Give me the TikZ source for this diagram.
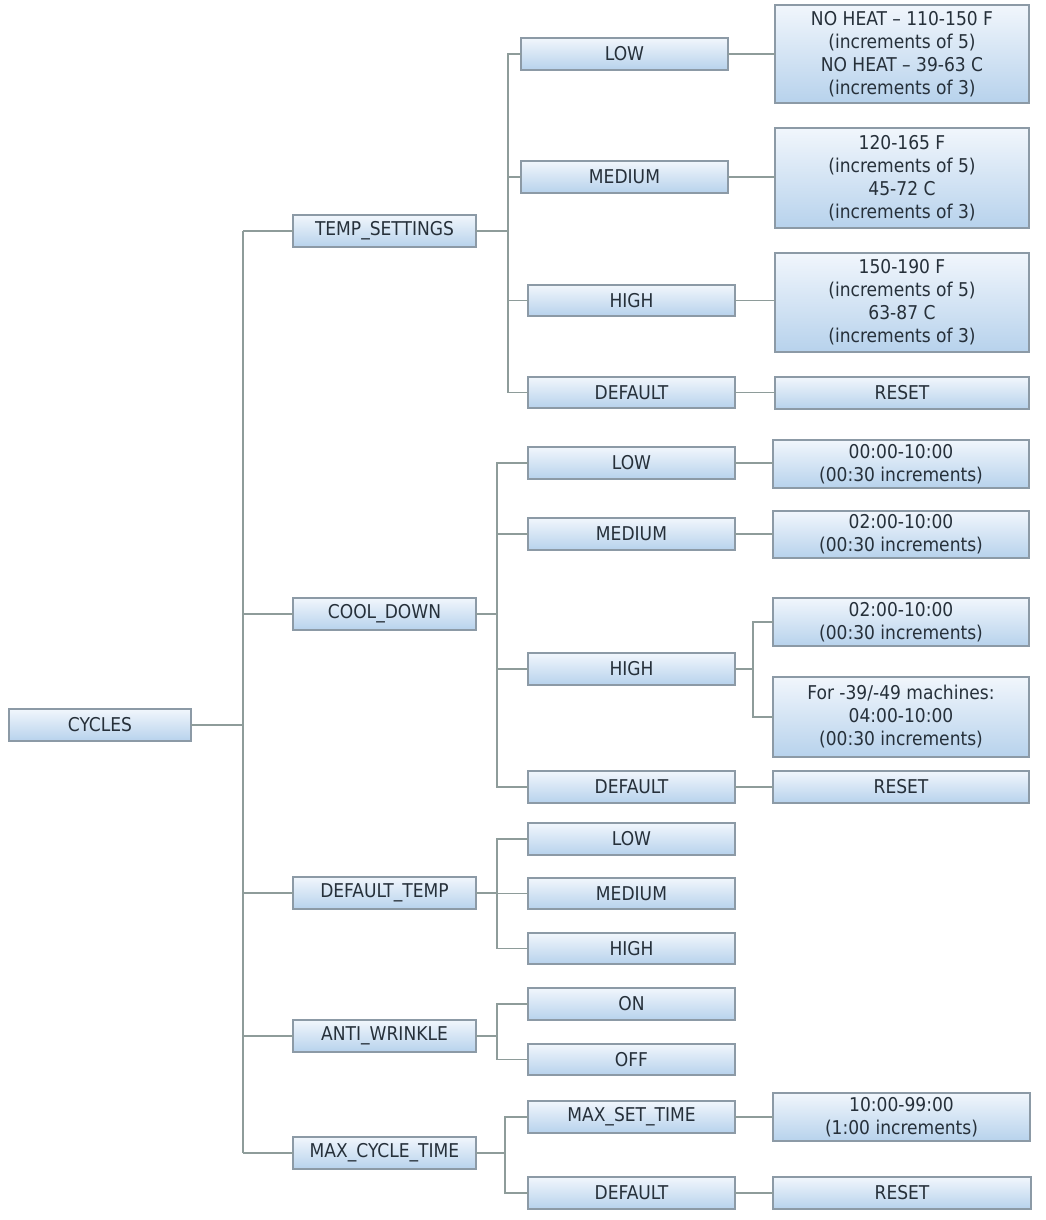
\documentclass[tikz,border=0pt]{standalone}
\usepackage{fontspec}
\setmainfont{DejaVu Sans Condensed}
\begin{document}
\begin{tikzpicture}[x=1pt,y=-1pt,
  box/.style={draw=boxline, line width=1.2pt, top color=boxtop, bottom color=boxbot,
    inner sep=0pt, outer sep=0pt, align=center, text=boxtext,
    font=\fontsize{19}{23}\selectfont},
  wire/.style={draw=wirecol, line width=1.5pt}]
\definecolor{boxline}{HTML}{8C9AA6}
\definecolor{boxtop}{HTML}{F1F6FC}
\definecolor{boxbot}{HTML}{B7D2EC}
\definecolor{boxtext}{HTML}{26303A}
\definecolor{wirecol}{HTML}{8E9C9A}
\useasboundingbox (0,0) rectangle (1045,1220);
\fill[white] (0,0) rectangle (1045,1220);
% helper macro: name, x1, y1, x2, y2, text
\newcommand{\bx}[6]{\node[box, minimum width={#4-#2}, minimum height={#5-#3}] (#1) at ({(#2+#4)/2},{(#3+#5)/2}) {#6};}
% level 0
\bx{cyc}{9}{709}{191}{741}{CYCLES}
% level 1
\bx{ts}{293}{215}{476}{247}{TEMP\_SETTINGS}
\bx{cd}{293}{598}{476}{630}{COOL\_DOWN}
\bx{dt}{293}{877}{476}{909}{DEFAULT\_TEMP}
\bx{aw}{293}{1020}{476}{1052}{ANTI\_WRINKLE}
\bx{mc}{293}{1137}{476}{1169}{MAX\_CYCLE\_TIME}
% level 2 : temp settings
\bx{tsl}{521}{38}{728}{70}{LOW}
\bx{tsm}{521}{161}{728}{193}{MEDIUM}
\bx{tsh}{528}{285}{735}{316}{HIGH}
\bx{tsd}{528}{377}{735}{408}{DEFAULT}
% level 2 : cool down
\bx{cdl}{528}{447}{735}{479}{LOW}
\bx{cdm}{528}{518}{735}{550}{MEDIUM}
\bx{cdh}{528}{653}{735}{685}{HIGH}
\bx{cdd}{528}{771}{735}{803}{DEFAULT}
% level 2 : default temp
\bx{dtl}{528}{823}{735}{855}{LOW}
\bx{dtm}{528}{878}{735}{909}{MEDIUM}
\bx{dth}{528}{933}{735}{964}{HIGH}
% level 2 : anti wrinkle
\bx{awn}{528}{988}{735}{1020}{ON}
\bx{awf}{528}{1044}{735}{1075}{OFF}
% level 2 : max cycle time
\bx{mcs}{528}{1101}{735}{1133}{MAX\_SET\_TIME}
\bx{mcd}{528}{1177}{735}{1209}{DEFAULT}
% level 3
\bx{tslv}{775}{5}{1029}{103}{NO HEAT – 110-150 F\\(increments of 5)\\NO HEAT – 39-63 C\\(increments of 3)}
\bx{tsmv}{775}{128}{1029}{228}{120-165 F\\(increments of 5)\\45-72 C\\(increments of 3)}
\bx{tshv}{775}{253}{1029}{352}{150-190 F\\(increments of 5)\\63-87 C\\(increments of 3)}
\bx{tsdv}{775}{377}{1029}{409}{RESET}
\bx{cdlv}{773}{440}{1029}{488}{00:00-10:00\\(00:30 increments)}
\bx{cdmv}{773}{511}{1029}{558}{02:00-10:00\\(00:30 increments)}
\bx{cdha}{773}{598}{1029}{646}{02:00-10:00\\(00:30 increments)}
\bx{cdhb}{773}{677}{1029}{757}{For -39/-49 machines:\\04:00-10:00\\(00:30 increments)}
\bx{cddv}{773}{771}{1029}{803}{RESET}
\bx{mcsv}{773}{1093}{1030}{1141}{10:00-99:00\\(1:00 increments)}
\bx{mcdv}{773}{1177}{1031}{1209}{RESET}
% junction columns
\coordinate (j0) at (243,0);
\coordinate (jts) at (508,0);
\coordinate (jcd) at (497,0);
\coordinate (jdt) at (497,0);
\coordinate (jaw) at (497,0);
\coordinate (jmc) at (505,0);
\coordinate (jch) at (753,0);
% trunk
\draw[wire] (cyc.east) -- (cyc.east -| j0);
\draw[wire] (j0 |- ts.west) -- (j0 |- mc.west);
\foreach \n in {ts,cd,dt,aw,mc} \draw[wire] (j0 |- \n.west) -- (\n.west);
% branches
\foreach \p/\j/\cs in {ts/jts/{tsl,tsm,tsh,tsd}, cd/jcd/{cdl,cdm,cdh,cdd}, dt/jdt/{dtl,dtm,dth}, aw/jaw/{awn,awf}, mc/jmc/{mcs,mcd}}{
  \draw[wire] (\p.east) -- (\p.east -| \j);
  \foreach \c in \cs \draw[wire] (\p.east -| \j) |- (\c.west);
}
% leaf connectors
\foreach \a/\b in {tsl/tslv,tsm/tsmv,tsh/tshv,tsd/tsdv,cdl/cdlv,cdm/cdmv,cdd/cddv,mcs/mcsv,mcd/mcdv}
  \draw[wire] (\a.east) -- (\a.east -| \b.west);
% cool-down high fork
\draw[wire] (cdh.east) -- (cdh.east -| jch);
\draw[wire] (cdh.east -| jch) |- (cdha.west);
\draw[wire] (cdh.east -| jch) |- (cdhb.west);
\end{tikzpicture}
\end{document}
